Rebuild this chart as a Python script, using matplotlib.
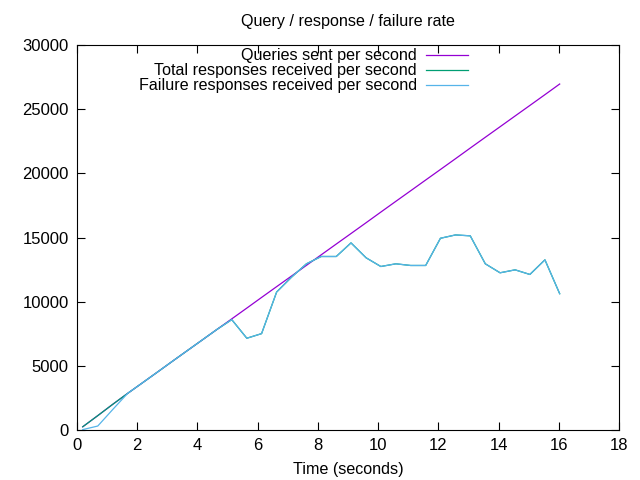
import matplotlib
matplotlib.use("agg")
import matplotlib.pyplot as plt

# time (s) of each sample
time_s = [0.19, 0.69, 1.18, 1.68, 2.17, 2.67, 3.16, 3.66, 4.15, 4.65,
          5.14, 5.64, 6.13, 6.63, 7.12, 7.62, 8.11, 8.61, 9.10, 9.60,
          10.09, 10.59, 11.08, 11.58, 12.07, 12.57, 13.06, 13.56, 14.05, 14.55,
          15.04, 15.54, 16.03]

queries_sent = [250, 1120, 1990, 2850, 3670, 4510, 5340, 6180, 7000, 7840,
                8660, 9500, 10330, 11170, 11990, 12830, 13650, 14490, 15310, 16150,
                16980, 17820, 18640, 19480, 20300, 21140, 21970, 22810, 23630, 24470,
                25290, 26130, 26960]

failure_responses = [30, 310, 1580, 2850, 3670, 4510, 5340, 6180, 7000, 7840,
                     8600, 7150, 7510, 10750, 11900, 12950, 13520, 13520, 14580, 13420,
                     12740, 12950, 12820, 12820, 14940, 15200, 15130, 12950, 12250, 12480,
                     12120, 13260, 10620]

total_responses = [250, 1120, 1990, 2850, 3670, 4510, 5340, 6180, 7000, 7840,
                   8600, 7150, 7510, 10750, 11900, 12950, 13520, 13520, 14580, 13420,
                   12740, 12950, 12820, 12820, 14940, 15200, 15130, 12950, 12250, 12480,
                   12120, 13260, 10620]

plt.rcParams["font.family"] = ["Liberation Sans", "DejaVu Sans"]
plt.rcParams["font.size"] = 11.6

fig = plt.figure(figsize=(6.4, 4.8), dpi=100)
ax = fig.add_axes([77 / 640, 1 - 430 / 480, (619 - 77) / 640, (430 - 45) / 480])

ax.plot(time_s, queries_sent, color="#9400d3", linewidth=0.9,
        label="Queries sent per second")
ax.plot(time_s, total_responses, color="#009e73", linewidth=0.9,
        label="Total responses received per second")
ax.plot(time_s, failure_responses, color="#56b4e9", linewidth=0.9,
        label="Failure responses received per second")

ax.set_xlim(0, 18)
ax.set_ylim(0, 30000)
ax.set_xticks(range(0, 19, 2))
ax.set_yticks(range(0, 30001, 5000))
ax.tick_params(direction="in", top=True, right=True, length=6, width=0.8,
               labelsize=12, pad=6)
for s in ax.spines.values():
    s.set_linewidth(0.8)

ax.set_title("Query / response / failure rate", fontsize=11.6, pad=14)
ax.set_xlabel("Time (seconds)", fontsize=11.6, labelpad=6)

ax.legend(loc="upper right", bbox_to_anchor=(0.736, 1.012), frameon=False,
          markerfirst=False, handlelength=2.6, handletextpad=0.55,
          labelspacing=0.0, borderaxespad=0.1, fontsize=11.6)

fig.savefig("out.png", dpi=100)
